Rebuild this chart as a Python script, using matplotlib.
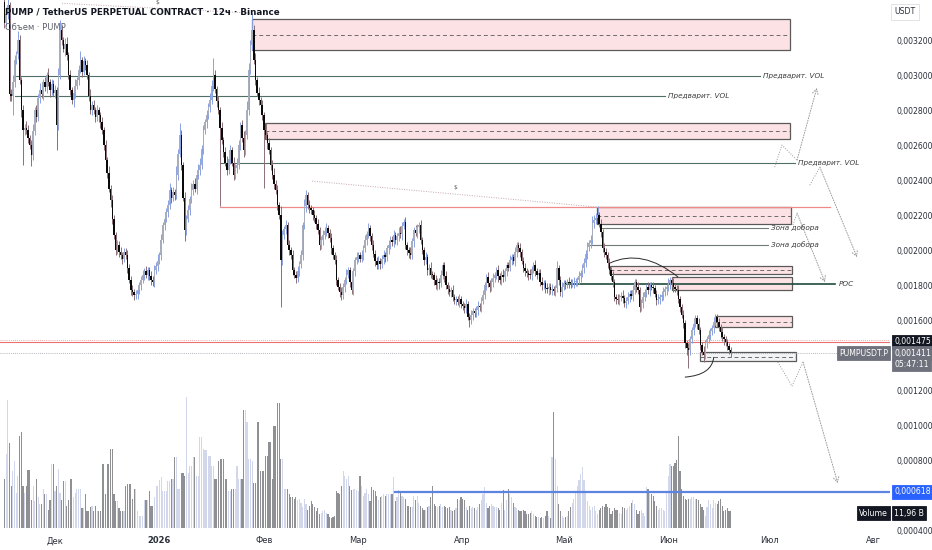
import numpy as np
import matplotlib
matplotlib.use("Agg")
import matplotlib.pyplot as plt
import matplotlib.dates as mdates
from matplotlib.patches import Rectangle, PathPatch
from matplotlib.path import Path

# ---------------- data (prices in millionths of USDT, 12h candles) ----------------
U = 1e-6
first_open = 3420
closes = [
    3300,3350,3400,2890,2880,2960,3086,3120,3200,2971,2800,2686,2700,2686,2640,2600,2543,2680,2800,2760,2870,2914,2890,2960,
    2930,3000,2960,2914,2950,2900,2914,2714,3000,3257,3200,3150,3180,3114,3000,2914,2857,2900,2940,2971,3030,3086,3020,3080,
    3057,3000,2880,2800,2830,2800,2760,2800,2771,2730,2686,2600,2514,2440,2350,2286,2180,2086,2000,2030,1990,1971,1950,1990,
    1971,1900,1830,1771,1760,1743,1750,1771,1800,1830,1857,1880,1860,1886,1850,1830,1817,1886,1910,1940,1971,2060,2143,2180,
    2220,2257,2343,2300,2330,2314,2429,2550,2657,2486,2300,2114,2180,2229,2290,2343,2380,2350,2429,2460,2486,2580,2686,2730,
    2771,2820,2857,2940,3000,2920,2850,2800,2700,2629,2560,2500,2457,2520,2571,2500,2429,2470,2486,2600,2714,2640,2571,2657,
    2800,3029,3171,3257,3086,2971,2900,2857,2829,2771,2686,2657,2610,2571,2486,2429,2380,2343,2257,2200,1943,2086,2120,2143,
    2029,2000,1971,1886,1860,1840,1880,1920,1971,2143,2250,2314,2257,2240,2229,2200,2183,2150,2114,2029,2060,2086,2110,2126,
    2100,2069,2010,1970,1943,1829,1790,1760,1743,1790,1829,1860,1886,1820,1771,1880,1943,1960,1971,1950,1971,2010,2057,2090,
    2126,2080,2029,1980,1940,1914,1935,1920,1950,1971,1960,2010,2029,2060,2045,2086,2057,2080,2100,2090,2140,2160,2029,2000,
    1985,1971,2050,2114,2100,2130,2143,2057,2000,1943,1960,1886,1900,1860,1857,1830,1800,1820,1810,1857,1914,1850,1800,1780,
    1760,1770,1730,1714,1720,1705,1720,1690,1680,1669,1690,1620,1600,1630,1650,1640,1660,1680,1674,1710,1743,1800,1846,1810,
    1789,1820,1840,1857,1886,1850,1829,1860,1846,1880,1914,1900,1943,1960,1940,1989,2029,2010,1989,1940,1897,1880,1869,1860,
    1857,1890,1914,1880,1857,1870,1817,1800,1810,1783,1775,1790,1771,1776,1765,1783,1897,1830,1760,1790,1811,1805,1817,1812,
    1811,1815,1817,1822,1829,1850,1869,1900,1926,1980,2017,2040,2057,2154,2170,2183,2200,2150,2103,2011,1990,1971,1926,1886,
    1850,1817,1731,1720,1714,1730,1740,1726,1697,1710,1731,1750,1740,1771,1817,1790,1771,1674,1700,1731,1760,1789,1770,1800,
    1790,1783,1750,1714,1720,1731,1745,1760,1775,1789,1810,1829,1810,1789,1780,1771,1720,1674,1630,1583,1469,1440,1429,1490,
    1543,1580,1611,1580,1543,1457,1420,1400,1469,1490,1514,1535,1554,1590,1617,1590,1560,1530,1503,1490,1474,1450,1429,1411,
]
# wick extents beyond the body, in units of 10 millionths
wick_hi = [
    3,4,6,2,3,4,3,2,5,3,2,3,2,4,3,2,3,4,2,3,2,4,3,2,
    3,2,4,2,3,2,3,2,4,6,3,2,3,4,2,3,2,3,4,2,3,5,2,3,
    2,3,2,4,2,3,2,3,2,2,3,2,3,2,4,2,3,2,2,3,2,3,2,2,
    2,3,2,2,3,2,2,3,2,2,3,2,3,2,2,3,2,3,2,4,2,3,2,3,
    2,3,4,2,3,2,5,3,7,3,2,3,2,3,2,4,2,3,2,3,4,2,3,2,
    3,2,4,3,10,3,2,3,2,3,2,3,4,2,3,2,3,2,4,3,2,3,4,3,
    5,4,3,10,3,4,2,3,2,3,2,4,2,3,2,3,4,2,3,2,5,3,2,3,
    2,3,2,3,2,2,3,2,3,2,4,3,2,3,2,2,3,2,3,2,2,3,2,3,
    2,2,3,2,2,3,2,2,3,2,2,3,2,2,3,2,2,3,2,2,3,2,3,2,
    3,2,2,3,2,2,3,2,2,3,2,2,3,2,2,3,2,2,3,4,2,2,3,2,
    2,3,2,2,3,2,2,3,2,2,3,2,2,3,2,2,3,2,2,3,2,2,3,2,
    2,2,3,2,2,2,3,2,2,2,3,2,2,3,2,2,2,3,2,2,3,2,2,3,
    2,2,3,2,2,3,2,2,3,2,2,2,3,2,2,3,2,2,3,2,2,3,2,2,
    3,2,2,3,2,2,2,3,2,2,3,2,2,3,2,2,4,2,2,3,2,2,2,3,
    2,2,3,2,2,3,2,2,3,2,3,2,3,4,3,3,5,2,3,2,3,2,2,3,
    2,3,2,2,3,2,2,3,2,2,3,2,2,3,2,2,3,2,2,3,2,2,3,2,
    2,3,2,2,3,2,2,3,2,2,3,2,2,3,2,2,3,2,2,3,2,2,3,2,
    2,3,2,2,3,2,2,3,2,2,3,2,2,3,2,2,2,2,3,2,2,2,2,2,
]
wick_lo = [
    3,2,3,4,3,11,3,2,3,2,4,20,3,2,3,2,6,3,2,3,2,3,2,3,
    2,3,2,4,3,2,3,14,3,2,3,2,4,3,2,3,2,4,3,2,3,2,3,2,
    3,2,3,2,3,2,3,2,4,3,2,3,2,3,2,4,3,2,3,2,3,2,3,2,
    2,3,2,3,2,3,2,3,2,3,2,3,2,3,2,3,2,3,2,3,2,3,2,3,
    2,3,2,3,2,3,2,3,2,3,2,6,3,2,3,2,3,2,3,2,3,2,3,2,
    3,2,3,2,3,2,3,2,45,2,3,2,3,2,3,2,3,2,3,2,3,2,4,3,
    2,3,2,3,2,3,2,3,2,3,33,2,3,2,3,2,3,2,3,2,27,3,2,3,
    2,3,2,3,2,3,2,3,2,3,2,3,2,3,2,3,2,3,2,3,2,3,2,3,
    3,2,3,2,2,3,2,3,3,2,3,2,2,3,2,3,3,2,3,2,2,3,2,3,
    2,3,3,2,3,2,2,3,2,3,3,2,3,2,2,3,2,3,3,2,3,2,2,3,
    3,2,2,3,2,3,3,2,2,3,2,3,3,2,2,3,2,3,3,2,2,3,2,3,
    2,3,2,2,3,2,3,2,2,3,3,2,4,2,3,2,2,3,2,3,2,2,3,2,
    3,2,3,2,2,3,2,3,3,2,3,2,2,3,2,3,3,2,3,2,2,3,2,3,
    2,3,2,3,2,3,2,3,2,3,2,3,2,3,2,3,2,3,2,3,2,3,2,3,
    3,2,3,2,3,2,3,2,3,2,3,2,3,2,3,2,3,2,3,2,3,2,3,2,
    2,3,2,3,2,3,2,3,2,3,2,3,2,3,2,3,2,3,2,3,2,3,2,3,
    2,3,2,3,2,3,2,3,2,3,2,3,2,3,2,3,2,3,2,3,3,4,10,3,
    2,3,2,3,2,3,2,4,2,3,2,3,2,3,2,3,2,3,2,3,2,2,2,2,
]
# volume per candle, billions of PUMP
volume_b = [
    35,52,90,60,30,40,47,25,37,65,68,30,25,30,41,41,20,30,19,35,22,17,17,28,
    24,24,13,20,45,45,26,30,42,25,20,33,33,16,20,35,35,22,25,28,28,28,14,14,
    24,12,12,15,16,12,16,12,12,12,45,45,24,45,45,56,56,24,19,19,14,12,12,12,
    30,31,31,31,21,28,28,12,9,9,9,20,20,20,26,16,16,22,30,30,34,36,26,26,
    26,33,33,35,35,50,50,28,28,39,39,37,92,39,44,44,50,50,37,37,64,64,56,55,
    55,51,51,44,44,35,35,47,49,49,49,35,35,26,26,28,28,28,44,35,35,35,83,83,
    75,49,49,47,32,32,75,75,40,40,40,51,51,61,61,35,72,72,88,88,49,49,28,28,
    28,24,22,22,21,22,20,21,18,15,21,17,13,16,19,17,15,12,14,10,11,12,13,11,
    10,8,7,8,9,26,25,24,30,40,37,35,37,30,27,28,28,27,26,37,30,23,25,28,
    24,19,29,27,26,23,20,22,23,24,23,24,24,24,24,36,19,22,27,25,23,22,21,16,
    16,15,15,23,20,23,18,16,14,13,13,15,16,22,30,17,16,15,16,17,15,16,15,14,
    15,13,12,13,14,21,20,22,21,20,15,13,16,14,15,14,13,15,17,20,24,29,18,14,
    16,17,16,15,15,14,13,18,27,13,20,28,24,22,18,15,14,13,12,12,13,12,10,10,
    11,12,10,9,8,8,7,8,7,9,12,9,7,50,82,49,30,17,12,9,7,8,9,12,
    15,18,21,26,30,34,38,43,34,26,19,16,13,15,16,12,10,13,14,16,15,17,15,14,
    10,12,14,13,13,11,10,15,14,13,14,16,18,20,17,13,10,12,13,11,9,29,28,26,
    24,23,19,16,13,14,14,13,12,25,37,45,44,44,46,48,65,40,28,23,21,20,21,21,
    22,22,21,21,20,17,15,13,9,15,20,17,14,20,18,17,19,21,16,12,13,14,12,12,
]
first_candle = "2025-11-16 00:00"
month_ticks = ["2025-12-01", "2026-01-01", "2026-02-01", "2026-03-01", "2026-04-01",
               "2026-05-01", "2026-06-01", "2026-07-01", "2026-08-01"]
month_labels = ["Дек", "2026", "Фев", "Мар", "Апр", "Май", "Июн", "Июл", "Авг"]
price_ticks = [0.0032, 0.0030, 0.0028, 0.0026, 0.0024, 0.0022, 0.0020, 0.0018,
               0.0016, 0.0012, 0.0010, 0.0008, 0.0004]

# drawings: zones (start, end, low, high, dashed-mid)
zone_start = ["2026-01-28 12:00", "2026-02-01 06:00", "2026-05-10 18:00", "2026-05-14 16:00",
              "2026-06-02 02:00", "2026-06-14 18:00", "2026-06-10 10:00"]
zone_end = ["2026-07-07 02:00", "2026-07-07 06:00", "2026-07-07 10:00", "2026-07-07 14:00",
            "2026-07-07 14:00", "2026-07-07 14:00", "2026-07-08 22:00"]
zone_low = [0.003143, 0.002634, 0.002149, 0.001863, 0.001771, 0.001560, 0.001366]
zone_high = [0.003320, 0.002726, 0.002246, 0.001909, 0.001846, 0.001623, 0.001417]
zone_mid = [True, True, True, True, False, True, True]
zone_fill = ["#fde2e5"] * 6 + ["#f2f3f5"]

# labelled horizontal levels
level_price = [0.002994, 0.002880, 0.002497, 0.002126, 0.002029, 0.001806]
level_start = ["2025-11-19", "2025-11-19", "2026-01-19", "2026-05-11 16:00", "2026-05-08 18:00", "2026-05-01 08:00"]
level_end = ["2026-06-28 05:00", "2026-05-31 00:00", "2026-07-08 14:00", "2026-06-30 14:00", "2026-06-30 14:00", "2026-07-20 12:00"]
level_text = ["Предварит. VOL", "Предварит. VOL", "Предварит. VOL", "Зона добора", "Зона добора", "POC"]
level_color = ["#4f6f68", "#4f6f68", "#4f6f68", "#6f7b79", "#6f7b79", "#1f4a3e"]

red_level = 0.002246
red_start, red_end = "2026-01-19", "2026-07-19"
last_close_level = 0.001475
cur_price = 0.001411
blue_level = 0.000618
blue_start = "2026-03-11 22:00"

# dotted "$" range lines
range_start = [("2025-12-03 02:00", 0.003410), ("2026-02-15 07:00", 0.002394)]
range_end = [("2026-01-28 12:00", 0.003354), ("2026-05-10 19:00", 0.002246)]
range_label = [("2025-12-31 07:00", 0.003416), ("2026-03-29 17:00", 0.002355)]

# curved arcs (start, control, end)
arcs = [
    [("2026-05-14 17:00", 0.001926), ("2026-05-24 05:00", 0.002011), ("2026-06-03 22:00", 0.001846)],
    [("2026-06-05 22:00", 0.001274), ("2026-06-14 00:00", 0.001286), ("2026-06-14 12:00", 0.001389)],
]
# projected dotted paths (last segment ends in an arrow)
paths = [
    [("2026-07-02 14:00", 0.002474), ("2026-07-04 17:00", 0.002600), ("2026-07-09 05:00", 0.002514), ("2026-07-15 02:00", 0.002926)],
    [("2026-07-13 00:00", 0.002371), ("2026-07-16 00:00", 0.002474), ("2026-07-27 00:00", 0.001960)],
    [("2026-07-08 00:00", 0.002143), ("2026-07-09 05:00", 0.002211), ("2026-07-17 12:00", 0.001817)],
    [("2026-07-03 12:00", 0.001360), ("2026-07-07 17:00", 0.001223), ("2026-07-11 00:00", 0.001360), ("2026-07-21 07:00", 0.000669)],
]

# ---------------- build ----------------
D = mdates.datestr2num
n = min(len(closes), len(wick_hi), len(wick_lo), len(volume_b))
c = np.array(closes[:n], float)
o = np.concatenate([[first_open], c[:-1]])
hi = (np.maximum(o, c) + 10 * np.array(wick_hi[:n])) * U
lo = (np.minimum(o, c) - 10 * np.array(wick_lo[:n])) * U
o, c = o * U, c * U
t = D(first_candle) + 0.5 * np.arange(n)
up = c >= o

W, H = 932, 550
fig = plt.figure(figsize=(W / 100, H / 100), dpi=100)
fig.patch.set_facecolor("white")
rect = [0, 18 / H, 890 / W, 532 / H]
axv = fig.add_axes(rect)
ax = fig.add_axes(rect)
ax.set_facecolor("none")

x0 = D("2025-12-01") - 16.32
x1 = D("2025-12-01") + 247.8
for a in (ax, axv):
    a.set_xlim(x0, x1)

# volume
axv.bar(t, volume_b[:n], width=0.34, color=np.where(up, "#d3d7ec", "#8f9094"), linewidth=0)
axv.set_ylim(-2.5, 371)
axv.axis("off")

# candles
ax.vlines(t, lo, hi, colors=np.where(up, "#8aa2e3", "#8b6f76"), linewidth=0.7, zorder=3)
body_h = np.maximum(np.abs(c - o), 4e-6)
ax.bar(t, body_h, bottom=np.minimum(o, c), width=0.44,
       color=np.where(up, "#a7adbf", "#0a0a0a"), linewidth=0, zorder=4)

ax.set_ylim(0.000389, 0.003429)

# zones
for s, e, l, h_, mid, fc in zip(zone_start, zone_end, zone_low, zone_high, zone_mid, zone_fill):
    xs, xe = D(s), D(e)
    ax.add_patch(Rectangle((xs, l), xe - xs, h_ - l, facecolor=fc, edgecolor="#5a5a5a",
                           linewidth=0.9, zorder=2))
    if mid:
        ax.plot([xs, xe], [(l + h_) / 2] * 2, color="#6c6c6c", lw=0.7, ls=(0, (4, 3)), zorder=2.1)

# levels
for p, s, e, txt, col in zip(level_price, level_start, level_end, level_text, level_color):
    lw = 1.2 if txt == "POC" else 0.8
    ax.plot([D(s), D(e)], [p, p], color=col, lw=lw, zorder=2.2)
    ax.text(D(e) + 1.0, p, txt, fontsize=5.2, style="italic", color="#3b3b3b",
            va="center", ha="left", zorder=5)

ax.plot([D(red_start), D(red_end)], [red_level] * 2, color="#ef8a8a", lw=0.9, zorder=2.2)
ax.axhline(last_close_level, color="#ea7070", lw=0.8, zorder=2.2)
ax.axhline(last_close_level + 0.000009, color="#e58f8f", lw=0.6, ls=(0, (1, 1.5)), zorder=2.2)
ax.axhline(cur_price, color="#9a9da6", lw=0.6, ls=(0, (1, 1.5)), zorder=2.2)
ax.plot([D(blue_start), x1], [blue_level] * 2, color="#5c84e0", lw=1.6, zorder=2.2)

# dotted range lines with "$"
for (sx, sy), (ex, ey), (lx, ly) in zip(range_start, range_end, range_label):
    ax.plot([D(sx), D(ex)], [sy, ey], color="#c4a6ad", lw=0.7, ls=(0, (1, 1.5)), zorder=2.3)
    ax.text(D(lx), ly, "$", fontsize=4.3, color="#555555", ha="center", va="center", zorder=5)

# arcs
for (p0, p1, p2) in arcs:
    verts = [(D(p0[0]), p0[1]), (D(p1[0]), p1[1]), (D(p2[0]), p2[1])]
    ax.add_patch(PathPatch(Path(verts, [Path.MOVETO, Path.CURVE3, Path.CURVE3]),
                           fill=False, edgecolor="#2a2a2a", lw=0.7, zorder=5))

# projected paths
for pts in paths:
    xs = [D(p[0]) for p in pts]
    ys = [p[1] for p in pts]
    ax.plot(xs[:-1], ys[:-1], color="#9a9a9a", lw=0.7, ls=(0, (1, 1.6)), zorder=2.3)
    ax.annotate("", xy=(xs[-1], ys[-1]), xytext=(xs[-2], ys[-2]),
                arrowprops=dict(arrowstyle="->,head_length=0.35,head_width=0.2", color="#9a9a9a",
                                lw=0.7, ls=(0, (1, 1.6)), shrinkA=0, shrinkB=0), zorder=2.3)

# axes styling
for sp in ax.spines.values():
    sp.set_visible(False)
ax.yaxis.tick_right()
ax.set_yticks(price_ticks)
ax.set_yticklabels([f"{v:.6f}".replace(".", ",") for v in price_ticks])
ax.tick_params(axis="y", length=0, pad=5, labelsize=5.6, labelcolor="#2a2e39")
ax.set_xticks([D(s) for s in month_ticks])
ax.set_xticklabels(month_labels)
ax.tick_params(axis="x", length=0, pad=3, labelsize=6, labelcolor="#2a2e39")
for lab in ax.get_xticklabels():
    if lab.get_text() == "2026":
        lab.set_fontweight("bold")


def right_box(y, text, fc, dx=3, ha="left", tc="white", ec=None, fs=5.6):
    ax.annotate(text, xy=(1.0, y), xycoords=("axes fraction", "data"), xytext=(dx, 0),
                textcoords="offset points", ha=ha, va="center", fontsize=fs, color=tc,
                bbox=dict(boxstyle="square,pad=0.3", fc=fc, ec=ec or fc, lw=0.6),
                annotation_clip=False, zorder=10)


right_box(last_close_level, "0,001475", "#131722")
right_box(cur_price, "0,001411", "#6f727c")
right_box(cur_price - 0.000064, "05:47:11", "#6f727c")
right_box(cur_price, "PUMPUSDT.P", "#6f727c", dx=-1.5, ha="right")
right_box(blue_level, "0,000618", "#2962ff")
right_box(0.000497, "11,96 B", "#131722")
right_box(0.000497, "Volume", "#131722", dx=-1.5, ha="right")
ax.annotate("USDT", xy=(1.0, 1 - 12 / 532), xycoords="axes fraction", xytext=(3, 0),
            textcoords="offset points", ha="left", va="center", fontsize=5.6, color="#2a2e39",
            bbox=dict(boxstyle="square,pad=0.45", fc="white", ec="#dcdee3", lw=0.6),
            annotation_clip=False, zorder=10)

fig.text(5 / W, 1 - 12 / H, "PUMP / TetherUS PERPETUAL CONTRACT · 12ч · Binance",
         fontsize=6.3, fontweight="semibold", color="#131722", va="center", ha="left")
fig.text(5 / W, 1 - 27 / H, "Объем · PUMP", fontsize=6, color="#5d606b", va="center", ha="left")

fig.savefig("out.png", dpi=100, facecolor="white")
